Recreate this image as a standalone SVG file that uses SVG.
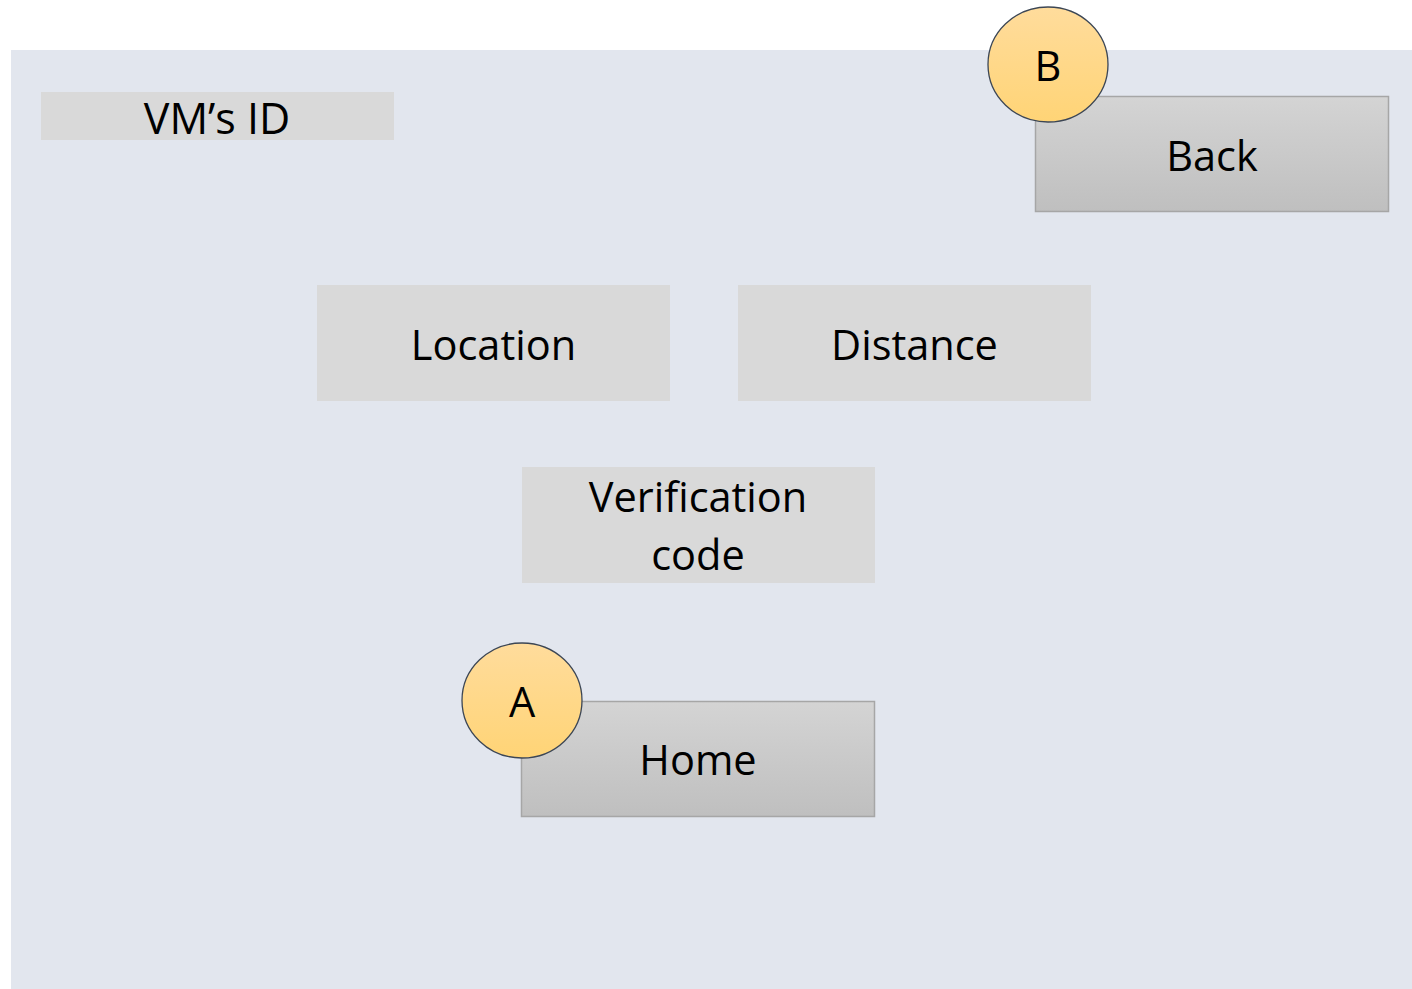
<svg xmlns="http://www.w3.org/2000/svg" width="1412" height="989" viewBox="0 0 1412 989">
<defs>
<linearGradient id="btn" x1="0" y1="0" x2="0" y2="1">
<stop offset="0" stop-color="#D4D4D4"/>
<stop offset="1" stop-color="#BFBFBF"/>
</linearGradient>
<linearGradient id="badge" x1="0" y1="0" x2="0" y2="1">
<stop offset="0" stop-color="#FFDC9C"/>
<stop offset="1" stop-color="#FFD476"/>
</linearGradient>
</defs>
<style>
text{font-family:"Open Sans","Noto Sans","DejaVu Sans",sans-serif;font-size:41.5px;fill:#000;text-anchor:middle}
.field{fill:#D9D9D9}
.button{fill:url(#btn);stroke:#A6A6A6;stroke-width:1.5}
.badge{fill:url(#badge);stroke:#3C4654;stroke-width:1.3}
</style>
<rect x="0" y="0" width="1412" height="989" fill="#FFFFFF"/>
<rect id="panel" x="11" y="50" width="1401" height="939" fill="#E2E6EE"/>
<g id="connectors"/>
<g id="vm-id">
<rect class="field" x="41" y="92" width="353" height="48"/>
<text x="217" y="134" style="font-size:43px">VM’s ID</text>
</g>
<g id="back">
<rect class="button" x="1035.5" y="96.5" width="353" height="115"/>
<text x="1212" y="171">Back</text>
</g>
<g id="badge-b">
<ellipse class="badge" cx="1048" cy="64.5" rx="60" ry="57.5"/>
<text x="1048" y="81">B</text>
</g>
<g id="location">
<rect class="field" x="317" y="285" width="353" height="116"/>
<text x="493.5" y="360">Location</text>
</g>
<g id="distance">
<rect class="field" x="738" y="285" width="353" height="116"/>
<text x="914.5" y="360">Distance</text>
</g>
<g id="verification-code">
<rect class="field" x="522" y="467" width="353" height="116"/>
<text x="698" y="512">Verification</text>
<text x="698" y="570">code</text>
</g>
<g id="home">
<rect class="button" x="521.5" y="701.5" width="353" height="115"/>
<text x="698" y="775">Home</text>
</g>
<g id="badge-a">
<ellipse class="badge" cx="522" cy="700.5" rx="60" ry="57.5"/>
<text x="522" y="717">A</text>
</g>
</svg>
